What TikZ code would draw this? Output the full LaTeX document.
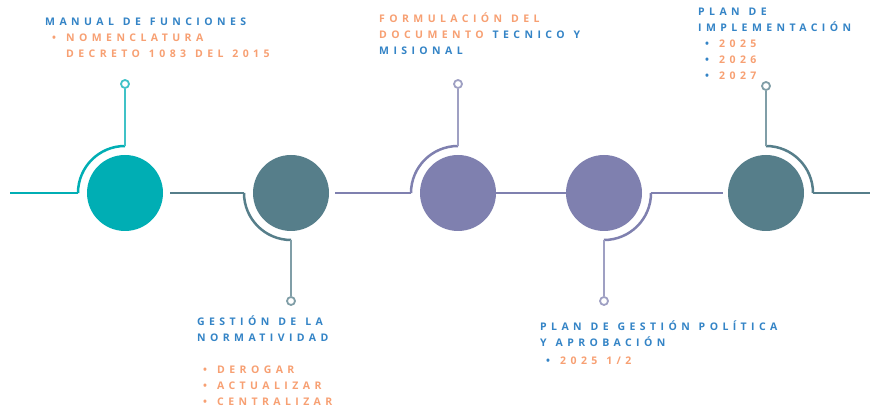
\documentclass[tikz,border=0pt]{standalone}
\usepackage{fontspec}
\setmainfont{Open Sans}
\newfontfamily\spacedfont[LetterSpace=42, WordSpace=1.25]{Open Sans}
\usetikzlibrary{calc}

\definecolor{tealdot}{RGB}{0,174,180}
\definecolor{slatedot}{RGB}{86,126,138}
\definecolor{lilacdot}{RGB}{127,128,175}
\definecolor{titleblue}{RGB}{52,132,198}
\definecolor{itemorange}{RGB}{247,160,115}

\newcommand{\bul}[1]{\makebox[14pt][l]{\textcolor{#1}{\textbullet}}}

\tikzset{
  dot/.style={circle, fill=#1, minimum size=76pt, inner sep=0pt},
  wire/.style={draw=#1, line width=2.5pt},
  ring/.style={circle, draw=#1, line width=1.8pt, fill=white, minimum size=8pt, inner sep=0pt},
  txt/.style={anchor=base west, inner sep=0pt, align=left,
    font=\spacedfont\bfseries\fontsize{10.5}{16}\selectfont}
}

\begin{document}
\begin{tikzpicture}[x=1pt,y=1pt]
  \useasboundingbox (0,0) rectangle (870,411);
  \def\R{47}
  % circles, arcs and stems
  \foreach \name/\x/\col/\h/\v/\ry in {
    A/125/tealdot/180/90/327, B/291/slatedot/180/270/110, C/458/lilacdot/180/90/327,
    D/604/lilacdot/0/-90/110, E/766/slatedot/0/90/325}
  {
    \node[dot=\col] (\name) at (\x,218) {};
    \coordinate (\name h) at ($(\name)+(\h:\R)$);
    \coordinate (\name v) at ($(\name)+(\v:\R)$);
    \node[ring=\col!75] (\name r) at (\x,\ry) {};
    \draw[wire=\col] (\name h) arc[start angle=\h, end angle=\v, radius=\R];
    \draw[wire=\col!75] (\name v) -- (\name r);
  }
  \coordinate (start) at (10,218);
  \coordinate (end) at (870,218);
  \draw[wire=tealdot] (start) -- (Ah);
  \draw[wire=slatedot, shorten <=7pt] (A.east) -- (Bh);
  \draw[wire=lilacdot, shorten <=6pt] (B.east) -- (Ch);
  \draw[wire=lilacdot] (C.east) -- (D.west);
  \draw[wire=lilacdot, shorten >=5pt] (Dh) -- (E.west);
  \draw[wire=slatedot] (Eh) -- (end);

  % texts (anchored at the last line)
  \node[txt, text=titleblue] (manual) at (45,353)
    {MANUAL DE FUNCIONES\\
     \hspace*{7pt}\bul{itemorange}\textcolor{itemorange}{NOMENCLATURA}\\
     \hspace*{21pt}\textcolor{itemorange}{DECRETO 1083 DEL 2015}};
  \node[txt, text=itemorange] (formulacion) at (379,356)
    {FORMULACIÓN DEL\\
     DOCUMENTO \textcolor{titleblue}{TECNICO Y}\\
     \textcolor{titleblue}{MISIONAL}};
  \node[txt, text=titleblue] (implementacion) at (698,331)
    {PLAN DE\\
     IMPLEMENTACIÓN\\
     \hspace*{7pt}\bul{titleblue}\textcolor{itemorange}{2025}\\
     \hspace*{7pt}\bul{titleblue}\textcolor{itemorange}{2026}\\
     \hspace*{7pt}\bul{titleblue}\textcolor{itemorange}{2027}};
  \node[txt, text=titleblue] (normatividad) at (197,5)
    {GESTIÓN DE LA\\
     NORMATIVIDAD\\[16pt]
     \hspace*{6pt}\bul{itemorange}\textcolor{itemorange}{DEROGAR}\\
     \hspace*{6pt}\bul{itemorange}\textcolor{itemorange}{ACTUALIZAR}\\
     \hspace*{6pt}\bul{itemorange}\textcolor{itemorange}{CENTRALIZAR}};
  \node[txt, text=titleblue] (aprobacion) at (540,46)
    {PLAN DE GESTIÓN POLÍTICA\\
     Y APROBACIÓN\\[2pt]
     \hspace*{6pt}\bul{titleblue}\textcolor{itemorange}{2025 1/2}};
\end{tikzpicture}
\end{document}
